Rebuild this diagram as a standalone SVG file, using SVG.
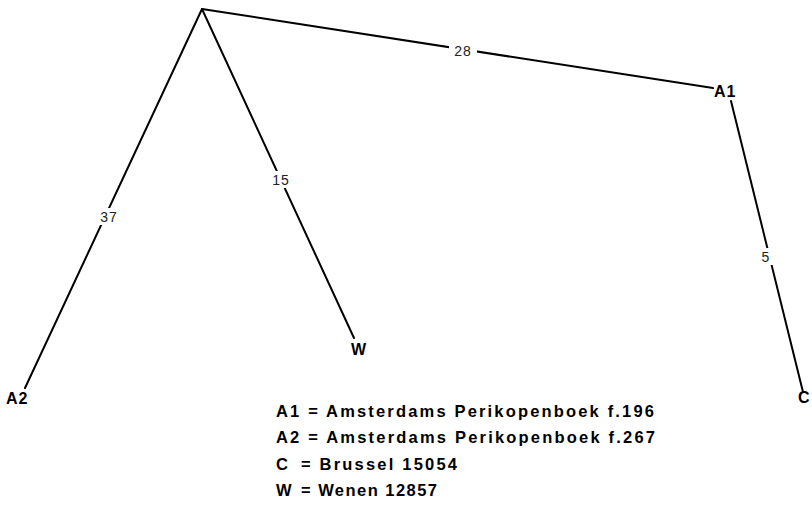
<svg xmlns="http://www.w3.org/2000/svg" width="812" height="507" viewBox="0 0 812 507">
<style>
.e{stroke:#000;stroke-width:2;fill:none;stroke-linecap:round}
.n{font-family:"Liberation Sans",Arial,sans-serif;font-weight:bold;font-size:16px;letter-spacing:1px;fill:#000}
.w{font-family:"Liberation Sans",Arial,sans-serif;font-size:14px;letter-spacing:1px;fill:#222;text-anchor:middle}
.bg{fill:#fff}
.lg{font-family:"Liberation Sans",Arial,sans-serif;font-weight:bold;font-size:16.5px;fill:#000}
</style>
<rect width="812" height="507" fill="#fff"/>
<g id="connectors">
<line class="e" x1="202" y1="9" x2="713" y2="88"/>
<line class="e" x1="202" y1="9" x2="25" y2="388"/>
<line class="e" x1="202" y1="9" x2="354" y2="338"/>
<line class="e" x1="731" y1="101" x2="803" y2="392"/>
<rect class="bg" x="449" y="42" width="28" height="17"/>
<text class="w" x="463" y="56">28</text>
<rect class="bg" x="95" y="208" width="28" height="17"/>
<text class="w" x="109" y="222">37</text>
<rect class="bg" x="267" y="171" width="28" height="17"/>
<text class="w" x="281" y="185">15</text>
<rect class="bg" x="758" y="248" width="16" height="17"/>
<text class="w" x="766" y="262">5</text>
</g>
<g id="A1"><text class="n" x="714" y="97">A1</text></g>
<g id="A2"><text class="n" x="6" y="404">A2</text></g>
<g id="W"><text class="n" x="351" y="355">W</text></g>
<g id="C"><text class="n" x="798" y="403">C</text></g>
<g id="legend">
<text class="lg" x="276" y="417" textLength="378" lengthAdjust="spacing">A1 = Amsterdams Perikopenboek f.196</text>
<text class="lg" x="276" y="443" textLength="379" lengthAdjust="spacing">A2 = Amsterdams Perikopenboek f.267</text>
<text class="lg" x="276" y="470">C</text>
<text class="lg" x="301" y="470" textLength="156" lengthAdjust="spacing">= Brussel 15054</text>
<text class="lg" x="276" y="496">W</text>
<text class="lg" x="301" y="496" textLength="136" lengthAdjust="spacing">= Wenen 12857</text>
</g>
</svg>
